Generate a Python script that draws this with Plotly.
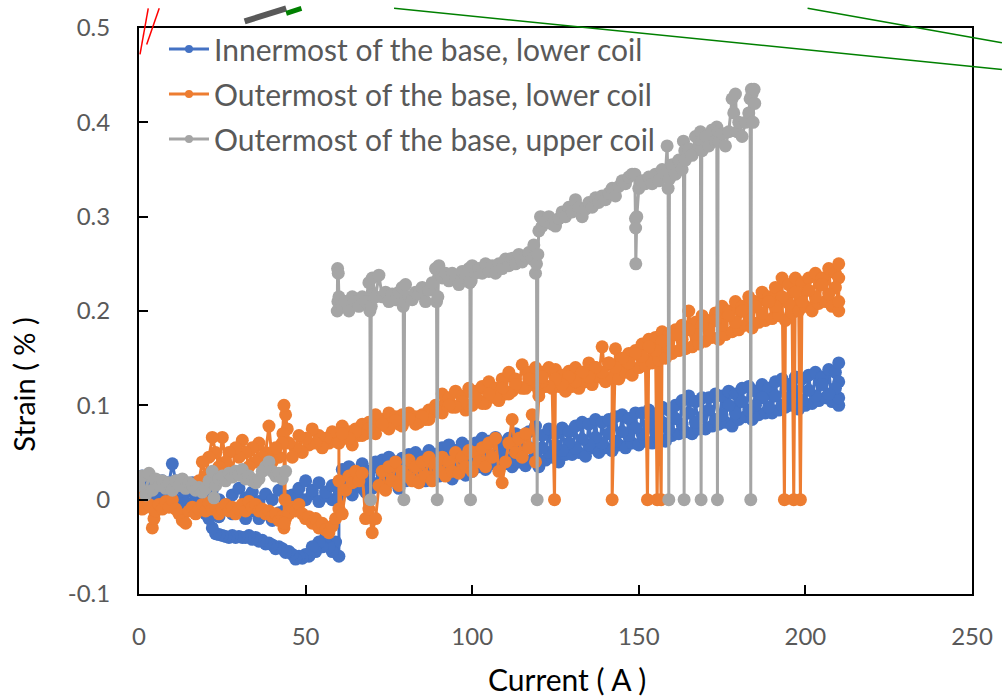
import plotly.graph_objects as go

# ---------------- data ----------------
# Blue: Innermost of the base, lower coil
blue_a_x = [0, 0.5, 1, 1.5, 2, 2.5, 3, 4, 5, 6, 7, 8, 9, 10, 11, 12, 13, 14, 15, 16, 17, 18, 19, 20,
            22, 24, 26, 28, 30, 32, 34, 36, 38, 40, 42, 44, 46, 48, 50, 52, 54, 56, 58, 60]
blue_a_y = [0.02, 0.005, 0.025, 0.0, 0.018, 0.01, 0.022, 0.012, 0.008, 0.015, 0.02, 0.01, 0.018, 0.038,
            0.02, 0.012, 0.015, 0.008, 0.01, 0.018, 0.005, 0.012, 0.008, 0.004, 0.01, 0.0, -0.005, 0.005,
            0.012, 0.002, 0.008, -0.002, 0.006, 0.0, 0.01, 0.004, -0.004, 0.002, 0.0, 0.006, -0.002, 0.004,
            0.0, 0.01]
blue_b_x = [60, 59, 58, 57, 56, 55, 54, 53, 52, 51, 50, 49, 48, 47, 46, 45, 44, 43, 42, 41, 40, 39, 38,
            37, 36, 35, 34, 33, 32, 31, 30, 29, 28, 27, 26, 25, 24, 23, 22, 21, 20, 19, 18, 17, 16, 15,
            14, 13, 12, 10, 8, 6, 4, 2, 0]
blue_b_y = [-0.06, -0.045, -0.055, -0.05, -0.04, -0.05, -0.045, -0.055, -0.05, -0.06, -0.058, -0.062,
            -0.06, -0.063, -0.058, -0.055, -0.056, -0.052, -0.05, -0.052, -0.048, -0.046, -0.047, -0.043,
            -0.044, -0.04, -0.042, -0.038, -0.04, -0.04, -0.039, -0.04, -0.038, -0.04, -0.039, -0.038,
            -0.037, -0.036, -0.03, -0.02, -0.012, -0.008, -0.012, -0.005, -0.01, -0.004, -0.008, 0.0,
            -0.004, 0.002, -0.002, 0.004, 0.0, 0.006, 0.002]
blue_c_x = [0, 2, 4, 6, 8, 10, 12, 14, 16, 18, 20, 22, 24, 26, 28, 30, 32, 34, 36, 38, 40, 42, 44, 46,
            48, 50, 52, 54, 56, 58, 60]
blue_c_y = [0.015, 0.008, 0.012, 0.0, -0.005, 0.003, -0.008, -0.004, -0.012, -0.006, -0.015, -0.01,
            -0.018, -0.008, -0.015, -0.01, -0.02, -0.012, -0.02, -0.015, -0.022, -0.014, -0.01, 0.005,
            0.012, 0.02, 0.01, 0.018, 0.008, 0.015, 0.005]
blue_d_x = list(range(60, 211)) + [210, 210, 210]
blue_d_y = [0.0, 0.032, 0.01, 0.035, 0.005, 0.03, 0.015, 0.038, 0.008, 0.03,
            0.012, 0.04, 0.018, 0.042, 0.015, 0.045, 0.02, 0.04, 0.012, 0.044,
            0.02, 0.048, 0.022, 0.05, 0.025, 0.045, 0.02, 0.052, 0.028, 0.048,
            0.025, 0.055, 0.028, 0.058, 0.022, 0.052, 0.03, 0.06, 0.026, 0.056,
            0.03, 0.06, 0.035, 0.065, 0.032, 0.062, 0.038, 0.066, 0.034, 0.06,
            0.038, 0.065, 0.035, 0.07, 0.04, 0.068, 0.036, 0.072, 0.042, 0.078,
            0.035, 0.068, 0.042, 0.075, 0.045, 0.07, 0.04, 0.076, 0.048, 0.072,
            0.048, 0.078, 0.05, 0.082, 0.046, 0.08, 0.055, 0.085, 0.05, 0.082,
            0.055, 0.085, 0.052, 0.088, 0.058, 0.09, 0.055, 0.086, 0.06, 0.092,
            0.058, 0.092, 0.062, 0.095, 0.06, 0.09, 0.065, 0.098, 0.062, 0.095,
            0.068, 0.1, 0.07, 0.105, 0.072, 0.11, 0.07, 0.104, 0.075, 0.108,
            0.075, 0.108, 0.078, 0.112, 0.08, 0.11, 0.082, 0.115, 0.078, 0.112,
            0.085, 0.118, 0.088, 0.12, 0.085, 0.115, 0.09, 0.122, 0.092, 0.118,
            0.092, 0.125, 0.095, 0.128, 0.098, 0.122, 0.1, 0.13, 0.096, 0.128,
            0.1, 0.132, 0.102, 0.135, 0.105, 0.13, 0.108, 0.138, 0.104, 0.135,
            0.145, 0.1, 0.125, 0.108]
blue_e_x = list(range(209, 60, -2))
blue_e_y = [0.118, 0.112, 0.122, 0.11, 0.116, 0.105, 0.115, 0.108, 0.1, 0.11,
            0.098, 0.108, 0.1, 0.095, 0.104, 0.092, 0.1, 0.09, 0.085, 0.095,
            0.088, 0.082, 0.092, 0.08, 0.086, 0.075, 0.082, 0.072, 0.08, 0.07,
            0.076, 0.068, 0.072, 0.062, 0.07, 0.06, 0.066, 0.058, 0.064, 0.055,
            0.06, 0.052, 0.058, 0.05, 0.055, 0.048, 0.055, 0.045, 0.052, 0.042,
            0.05, 0.04, 0.046, 0.038, 0.045, 0.035, 0.042, 0.032, 0.04, 0.03,
            0.036, 0.028, 0.034, 0.025, 0.032, 0.022, 0.03, 0.02, 0.026, 0.015,
            0.022, 0.012, 0.02, 0.01, 0.018]

# Orange: Outermost of the base, lower coil
orange_a_x = [0, 0.5, 1, 1.5, 2, 3, 4, 4.5, 5, 6, 7, 8, 9, 10, 11, 12, 13, 14, 15, 16, 17, 18, 19, 20,
              21, 22, 23, 24, 25, 26, 27, 28, 29, 30, 31, 32, 33, 34, 35, 36, 37, 38, 39, 40, 41, 42,
              43, 43.5, 44, 45, 46, 47, 48, 49, 50, 51, 52, 53, 54, 55, 56, 57, 58, 59, 60]
orange_a_y = [-0.005, 0.005, -0.01, 0.0, -0.008, -0.005, -0.03, -0.02, -0.012, -0.005, -0.01, -0.002,
              -0.008, 0.0, -0.01, -0.015, -0.022, -0.025, -0.012, -0.008, -0.015, -0.01, -0.005, -0.012,
              -0.003, -0.01, -0.008, -0.015, -0.01, -0.005, -0.012, -0.008, -0.015, -0.01, -0.005,
              -0.012, -0.002, -0.008, -0.005, -0.012, -0.01, -0.015, -0.012, -0.018, -0.015, -0.022,
              -0.018, -0.03, -0.02, -0.015, -0.008, -0.012, -0.005, -0.015, -0.02, -0.018, -0.025, -0.02,
              -0.03, -0.025, -0.032, -0.035, -0.028, -0.02, -0.01]
orange_b_x = [60, 59, 58, 57, 56, 55, 54, 53, 52, 51, 50, 49, 48, 47, 46, 45, 44.5, 44, 43.8, 43.6,
              43.5, 43.2, 43, 42, 41, 40, 39, 38, 37, 36, 35, 34, 33, 32, 31, 30, 29, 28, 27, 26, 25,
              24, 23, 22, 21, 20, 19, 18]
orange_b_y = [0.07, 0.062, 0.072, 0.06, 0.065, 0.055, 0.068, 0.06, 0.075, 0.058, 0.065, 0.05, 0.068,
              0.055, 0.045, 0.06, 0.075, 0.09, 0.0, -0.025, 0.1, 0.07, 0.06, 0.045, 0.055, 0.04, 0.078,
              0.05, 0.045, 0.06, 0.04, 0.055, 0.035, 0.05, 0.063, 0.045, 0.055, 0.03, 0.05, 0.04, 0.066,
              0.035, 0.05, 0.066, 0.045, 0.025, 0.04, 0.02]
orange_c_x = list(range(60, 211)) + [210, 210, 210]
orange_c_y = [0.06, 0.078, 0.065, 0.072, 0.058, 0.075, 0.068, 0.08, 0.07, 0.082,
              0.078, 0.09, 0.08, 0.085, 0.078, 0.092, 0.082, 0.088, 0.08, 0.09,
              0.084, 0.092, 0.086, 0.088, 0.082, 0.09, 0.085, 0.095, 0.092, 0.1,
              0.095, 0.112, 0.1, 0.108, 0.098, 0.115, 0.1, 0.11, 0.095, 0.118,
              0.1, 0.115, 0.105, 0.12, 0.102, 0.125, 0.11, 0.118, 0.105, 0.128,
              0.112, 0.135, 0.115, 0.128, 0.12, 0.143, 0.118, 0.135, 0.122, 0.14,
              0.115, 0.135, 0.12, 0.14, 0.118, 0.138, 0.12, 0.132, 0.115, 0.136,
              0.12, 0.14, 0.118, 0.135, 0.125, 0.145, 0.122, 0.14, 0.13, 0.162,
              0.125, 0.145, 0.13, 0.16, 0.128, 0.148, 0.135, 0.155, 0.132, 0.158,
              0.14, 0.165, 0.142, 0.17, 0.145, 0.172, 0.148, 0.178, 0.15, 0.175,
              0.155, 0.18, 0.158, 0.185, 0.16, 0.2, 0.162, 0.188, 0.165, 0.195,
              0.168, 0.19, 0.172, 0.198, 0.17, 0.205, 0.175, 0.2, 0.178, 0.21,
              0.18, 0.205, 0.185, 0.215, 0.182, 0.21, 0.188, 0.22, 0.19, 0.215,
              0.192, 0.225, 0.195, 0.235, 0.19, 0.228, 0.198, 0.235, 0.2, 0.23,
              0.205, 0.235, 0.2, 0.24, 0.208, 0.235, 0.21, 0.245, 0.205, 0.24,
              0.25, 0.2, 0.235, 0.21]
orange_drop_x = [124.7, 142.0, 152.6, 155.5, 156.7, 193.7, 196.5, 198.5]
orange_drop_y = [0, 0, 0, 0, 0, 0, 0, 0]
orange_e_x = list(range(209, 60, -2))
orange_e_y = [0.225, 0.218, 0.228, 0.215, 0.222, 0.21, 0.22, 0.208, 0.215, 0.205,
              0.21, 0.198, 0.205, 0.195, 0.2, 0.188, 0.195, 0.185, 0.19, 0.18,
              0.185, 0.175, 0.18, 0.17, 0.175, 0.162, 0.168, 0.158, 0.162, 0.152,
              0.155, 0.145, 0.15, 0.14, 0.145, 0.135, 0.14, 0.13, 0.135, 0.125,
              0.13, 0.122, 0.128, 0.12, 0.125, 0.125, 0.128, 0.118, 0.122, 0.112,
              0.118, 0.108, 0.112, 0.102, 0.108, 0.1, 0.104, 0.098, 0.1, 0.092,
              0.095, 0.085, 0.088, 0.08, 0.086, 0.078, 0.084, 0.075, 0.08, 0.07,
              0.075, 0.068, 0.072, 0.065, 0.07]
orange_d_x = list(range(60, 122))
orange_d_y = [0.02, -0.015, 0.01, 0.025, 0.018, 0.03, 0.02, 0.028, -0.02, -0.01,
              -0.035, -0.02, 0.015, 0.03, 0.01, 0.035, 0.02, 0.04, 0.015, 0.03,
              0.025, 0.042, 0.02, 0.035, 0.018, 0.04, 0.025, 0.045, 0.02, 0.038,
              0.03, 0.045, 0.025, 0.04, 0.03, 0.05, 0.028, 0.045, 0.035, 0.052,
              0.03, 0.05, 0.04, 0.055, 0.035, 0.06, 0.045, 0.065, 0.03, 0.018,
              0.04, 0.06, 0.085, 0.05, 0.065, 0.045, 0.07, 0.055, 0.09, 0.04,
              0.11, 0.13]

# Gray: Outermost of the base, upper coil
gray_a_x = [0, 1, 2, 3, 4, 5, 6, 7, 8, 9, 10, 11, 12, 13, 14, 15, 16, 17, 18, 19, 20, 21, 22, 22.5,
            23, 24, 25, 26, 27, 28, 29, 30, 31, 32, 33, 34, 35, 36, 37, 38, 39, 40, 41, 42, 43, 44]
gray_a_y = [0.015, 0.025, 0.005, 0.028, 0.01, 0.022, 0.015, 0.02, 0.012, 0.018, 0.01, 0.02, 0.015,
            0.022, 0.012, 0.018, 0.015, 0.01, 0.013, 0.008, 0.012, 0.02, 0.03, 0.002, 0.015, 0.022,
            0.025, 0.02, 0.028, 0.024, 0.03, 0.026, 0.032, 0.022, 0.025, 0.02, 0.018, 0.022, 0.03,
            0.035, 0.04, 0.03, 0.025, 0.028, 0.022, 0.03]
gray_b_x = [59.5, 59.6, 59.7, 59.8, 60, 61, 62, 63, 64, 65,
            66, 67, 68, 69, 69.3, 69.7, 70, 71, 72, 73,
            74, 75, 76, 77, 78, 79, 79.3, 79.7, 80, 81,
            82, 83, 84, 85, 86, 87, 88, 89, 89.3, 89.7,
            90, 91, 92, 93, 94, 95, 96, 97, 98, 99,
            99.3, 99.7, 100, 101, 102, 103, 104, 105, 106, 107,
            108, 109, 110, 111, 112, 113, 114, 115, 116, 117,
            118, 118.5, 119, 119.3, 119.7, 120, 120.5, 121, 122, 123,
            124, 125, 126, 127, 128, 129, 130, 131, 132, 133,
            134, 135, 136, 137, 138, 139, 140, 141, 142, 143,
            144, 145, 146, 147, 148, 148.8, 149, 149.05, 149.1, 149.4,
            150, 151, 152, 153, 154, 155, 156, 157, 158, 158.5,
            158.8, 159.2, 160, 161, 162, 163, 163.4, 163.8, 164, 165,
            166, 167, 168, 168.5, 168.9, 169, 170, 171, 172, 173,
            173.4, 173.8, 174, 175, 176, 177, 178, 178.5, 179, 179.5,
            180, 181, 182, 183, 183.4, 183.8, 184, 184.3, 184.6, 184.8]
gray_b_y = [0.2, 0.245, 0.21, 0.24, 0.215, 0.205, 0.21, 0.2, 0.215, 0.21,
            0.205, 0.215, 0.21, 0.23, 0.2, 0.205, 0.235, 0.215, 0.238, 0.215,
            0.22, 0.21, 0.218, 0.212, 0.22, 0.225, 0.205, 0.21, 0.228, 0.215,
            0.212, 0.22, 0.218, 0.225, 0.21, 0.222, 0.23, 0.245, 0.21, 0.215,
            0.248, 0.235, 0.24, 0.232, 0.24, 0.235, 0.228, 0.242, 0.236, 0.245,
            0.23, 0.232, 0.248, 0.24, 0.245, 0.24, 0.25, 0.242, 0.248, 0.24,
            0.25, 0.245, 0.255, 0.248, 0.256, 0.25, 0.26, 0.252, 0.258, 0.262,
            0.255, 0.27, 0.24, 0.25, 0.26, 0.285, 0.3, 0.29, 0.295, 0.3,
            0.292, 0.29, 0.298, 0.305, 0.3, 0.31, 0.305, 0.318, 0.31, 0.3,
            0.308, 0.315, 0.31, 0.32, 0.315, 0.322, 0.318, 0.325, 0.33, 0.322,
            0.332, 0.338, 0.335, 0.342, 0.345, 0.345, 0.298, 0.288, 0.25, 0.3,
            0.33, 0.338, 0.335, 0.342, 0.335, 0.345, 0.338, 0.35, 0.345, 0.375,
            0.33, 0.34, 0.355, 0.345, 0.36, 0.35, 0.38, 0.37, 0.36, 0.372,
            0.365, 0.385, 0.375, 0.39, 0.38, 0.37, 0.385, 0.375, 0.392, 0.38,
            0.395, 0.39, 0.38, 0.388, 0.375, 0.39, 0.425, 0.41, 0.43, 0.39,
            0.4, 0.385, 0.4, 0.41, 0.425, 0.435, 0.43, 0.4, 0.435, 0.42]
gray_drop_x = [69.5, 79.5, 89.5, 99.5, 119.5, 159.0, 163.6, 168.7, 173.6, 183.6]
gray_drop_y = [0, 0, 0, 0, 0, 0, 0, 0, 0, 0]

series_names = ["Innermost of the base, lower coil",
                "Outermost of the base, lower coil",
                "Outermost of the base, upper coil"]
series_colors = ["#4472C4", "#ED7D31", "#A5A5A5"]

x_ticks = [0, 50, 100, 150, 200, 250]
y_ticks = [-0.1, 0, 0.1, 0.2, 0.3, 0.4, 0.5]
y_ticktext = ["-0.1", "0", "0.1", "0.2", "0.3", "0.4", "0.5"]


def merge_sorted(xa, ya, xb, yb):
    pts = sorted(zip(list(xa) + list(xb), list(ya) + list(yb)), key=lambda p: p[0])
    return [p[0] for p in pts], [p[1] for p in pts]


# blue: A, B, C, D, E
bx = blue_a_x + blue_b_x + blue_c_x + blue_d_x + blue_e_x
by = blue_a_y + blue_b_y + blue_c_y + blue_d_y + blue_e_y

# orange: A, B, (gap), C with drops, E, (gap), D
ocx, ocy = merge_sorted(orange_c_x[:151], orange_c_y[:151], orange_drop_x, orange_drop_y)
ocx += orange_c_x[151:]
ocy += orange_c_y[151:]
ox = orange_a_x + orange_b_x + [None] + ocx + orange_e_x + [None] + orange_d_x
oy = orange_a_y + orange_b_y + [None] + ocy + orange_e_y + [None] + orange_d_y

# gray: A, (gap), B with drops
gbx, gby = merge_sorted(gray_b_x, gray_b_y, gray_drop_x, gray_drop_y)
gx = gray_a_x + [None] + gbx
gy = gray_a_y + [None] + gby

fig = go.Figure()
for i, (xx, yy) in enumerate([(bx, by), (ox, oy), (gx, gy)]):
    fig.add_trace(go.Scatter(
        x=xx, y=yy, mode="lines+markers", name=series_names[i],
        legendgroup=f"g{i}", showlegend=False,
        line=dict(color=series_colors[i], width=3),
        marker=dict(color=series_colors[i], size=13),
        connectgaps=False,
    ))
# legend entries (smaller markers, as in the reference legend)
for i in range(3):
    fig.add_trace(go.Scatter(
        x=[None], y=[None], mode="lines+markers", name=series_names[i],
        legendgroup=f"g{i}", showlegend=True,
        line=dict(color=series_colors[i], width=3),
        marker=dict(color=series_colors[i], size=8),
    ))

font_family = "Lato, Carlito, sans-serif"
tick_font = dict(family=font_family, size=24, color="#595959")

fig.update_layout(
    width=1005, height=700,
    margin=dict(l=139, r=30, t=20, b=106),
    paper_bgcolor="white", plot_bgcolor="white",
    showlegend=True,
    legend=dict(x=0.03, y=1.009, xanchor="left", yanchor="top",
                font=dict(family=font_family, size=30, color="#595959"),
                bgcolor="rgba(0,0,0,0)", tracegroupgap=3, itemwidth=40),
    xaxis=dict(range=[0, 250], tickvals=x_ticks, ticks="inside", ticklen=9, tickwidth=2,
               tickcolor="black", showline=True, linecolor="black", linewidth=2, mirror=True,
               showgrid=False, zeroline=False, tickfont=tick_font, ticklabelstandoff=20),
    yaxis=dict(range=[-0.1, 0.5], tickvals=y_ticks, ticktext=y_ticktext, ticks="inside",
               ticklen=9, tickwidth=2, tickcolor="black", showline=True, linecolor="black",
               linewidth=2, mirror=True, showgrid=False, zeroline=False, tickfont=tick_font,
               ticklabelstandoff=22),
    annotations=[
        dict(text="Current ( A )", x=0.514, y=-0.15, xref="paper", yref="paper",
             xanchor="center", yanchor="middle", showarrow=False,
             font=dict(family=font_family, size=30, color="black")),
        dict(text="Strain ( % )", x=-0.138, y=0.37, xref="paper", yref="paper",
             xanchor="center", yanchor="middle", showarrow=False, textangle=-90,
             font=dict(family=font_family, size=29, color="black")),
    ],
    shapes=[
        dict(type="line", xref="paper", yref="paper", x0=0.0012, y0=0.9535, x1=0.0111, y1=1.0348,
             line=dict(color="red", width=1.5)),
        dict(type="line", xref="paper", yref="paper", x0=0.0092, y0=0.9709, x1=0.0243, y1=1.0348,
             line=dict(color="red", width=1.5)),
        dict(type="line", xref="paper", yref="paper", x0=0.1268, y0=1.0117, x1=0.1767, y1=1.0348,
             line=dict(color="#595959", width=6)),
        dict(type="line", xref="paper", yref="paper", x0=0.1767, y0=1.026, x1=0.195, y1=1.0348,
             line=dict(color="green", width=5)),
        dict(type="line", xref="paper", yref="paper", x0=0.3062, y0=1.0348, x1=1.0359, y1=0.9268,
             line=dict(color="green", width=1.5)),
        dict(type="line", xref="paper", yref="paper", x0=0.8026, y0=1.0348, x1=1.0359, y1=0.9739,
             line=dict(color="green", width=1.5)),
    ],
)

fig.write_html("out.html")
